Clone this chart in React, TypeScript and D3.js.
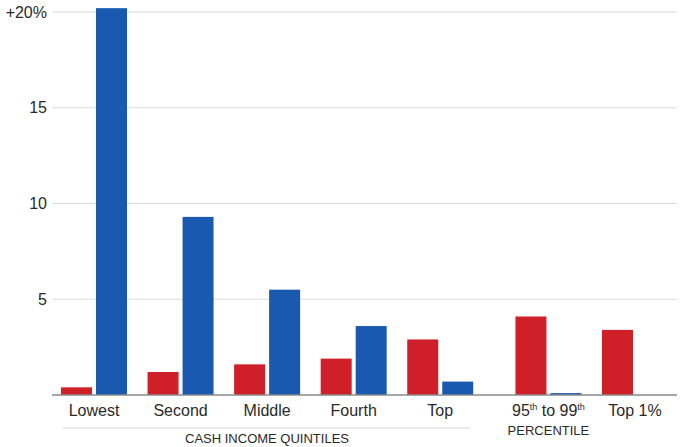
import React from "react";
import * as d3 from "d3";

const categories = ["Lowest", "Second", "Middle", "Fourth", "Top", "95th to 99th", "Top 1%"];
const slots = [0, 1, 2, 3, 4, 5.25, 6.25];
const redValues = [0.4, 1.2, 1.6, 1.9, 2.9, 4.1, 3.4];
const blueValues = [20.2, 9.3, 5.5, 3.6, 0.7, 0.1, 0];
const yTicks = [5, 10, 15, 20];
const yTickLabels = ["5", "10", "15", "+20%"];

const W = 681;
const H = 447;
const RED = "#cf1f28";
const BLUE = "#1a59b0";
const FONT = "'Liberation Sans', Arial, sans-serif";

export default function App() {
  const y = d3.scaleLinear().domain([0, 20]).range([395, 12]);
  const x = d3.scaleLinear().domain([0, 6.25]).range([61, 602]);
  const barW = 31;
  const step = 35;
  const left = 52;
  const right = 677;

  return (
    <svg width={W} height={H} style={{ position: "absolute", left: 0, top: 0 }} fontFamily={FONT}>
      <rect width={W} height={H} fill="#fff" />
      {yTicks.map((t, i) => (
        <g key={t}>
          <line x1={left} x2={right} y1={y(t)} y2={y(t)} stroke="#dcdcdc" strokeWidth={1.2} />
          <text x={47} y={y(t)} dy="0.35em" textAnchor="end" fontSize={16} fill="#2a2a2a">
            {yTickLabels[i]}
          </text>
        </g>
      ))}
      {categories.map((c, i) => (
        <g key={c}>
          <rect x={x(slots[i])} y={y(redValues[i])} width={barW} height={y(0) - y(redValues[i])} fill={RED} />
          {blueValues[i] > 0 && (
            <rect x={x(slots[i]) + step} y={y(blueValues[i])} width={barW} height={y(0) - y(blueValues[i])} fill={BLUE} />
          )}
        </g>
      ))}
      <line x1={left} x2={right} y1={y(0)} y2={y(0)} stroke="#8a8a8a" strokeWidth={1.5} />
      {categories.map((c, i) => {
        const cx = x(slots[i]) + (step + barW) / 2;
        if (i === 5) {
          return (
            <g key={c}>
              <text x={cx} y={416} textAnchor="middle" fontSize={16} fill="#2a2a2a">
                95<tspan fontSize={9} dy={-6}>th</tspan>
                <tspan dy={6}> to 99</tspan>
                <tspan fontSize={9} dy={-6}>th</tspan>
              </text>
              <text x={cx} y={435} textAnchor="middle" fontSize={13} fill="#2a2a2a">PERCENTILE</text>
            </g>
          );
        }
        const lx = i === 6 ? x(slots[i]) + barW + 2 : cx;
        return (
          <text key={c} x={lx} y={416} textAnchor="middle" fontSize={16} fill="#2a2a2a">
            {c}
          </text>
        );
      })}
      <line x1={63} x2={470} y1={428} y2={428} stroke="#d8d8d8" strokeWidth={1.2} />
      <text x={267} y={443} textAnchor="middle" fontSize={13} fill="#2a2a2a">CASH INCOME QUINTILES</text>
    </svg>
  );
}
